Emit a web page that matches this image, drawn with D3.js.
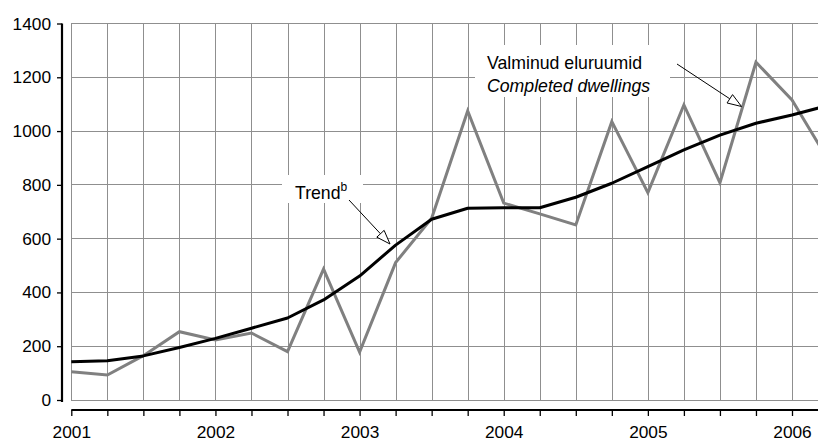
<!DOCTYPE html>
<html>
<head>
<meta charset="utf-8">
<script src="https://cdn.jsdelivr.net/npm/d3@7"></script>
<style>
  html, body { margin: 0; padding: 0; background: #fff; }
  svg { display: block; font-family: "Liberation Sans", Arial, sans-serif; }
</style>
</head>
<body>
<svg id="chart" width="818" height="442"></svg>
<script>
// Quarterly data, 2001 Q1 .. 2006 Q2
const quarters = ["2001 I","2001 II","2001 III","2001 IV","2002 I","2002 II","2002 III","2002 IV",
  "2003 I","2003 II","2003 III","2003 IV","2004 I","2004 II","2004 III","2004 IV",
  "2005 I","2005 II","2005 III","2005 IV","2006 I","2006 II"];
const completedDwellings = [105, 93, 165, 254, 223, 249, 180, 487, 178, 511, 676, 1075,
  732, 692, 651, 1035, 771, 1097, 808, 1256, 1116, 893];
const trend = [142, 146, 164, 195, 229, 267, 305, 372, 461, 576, 672, 713,
  715, 715, 754, 806, 868, 930, 985, 1029, 1060, 1095];
const yTicks = [0, 200, 400, 600, 800, 1000, 1200, 1400];
const yearLabels = ["2001", "2002", "2003", "2004", "2005", "2006"];

const W = 818, H = 442;
const svg = d3.select("#chart");

const x = d3.scaleLinear().domain([0, 20]).range([71.3, 792]);
const y = d3.scaleLinear().domain([0, 1400]).range([400, 23.5]);
const idx = quarters.map((d, i) => i);
const plotRight = W;

// clip
svg.append("defs").append("clipPath").attr("id", "clip")
  .append("rect").attr("x", 60).attr("y", 0).attr("width", plotRight - 60).attr("height", 405);

// gridlines
const grid = svg.append("g");
grid.selectAll("line.h").data(yTicks).join("line")
  .attr("x1", x(0)).attr("x2", plotRight)
  .attr("y1", d => y(d)).attr("y2", d => y(d))
  .attr("stroke", "#8f8f8f").attr("stroke-width", 1).attr("shape-rendering", "crispEdges");
grid.selectAll("line.v").data(idx.filter(i => x(i) <= plotRight)).join("line")
  .attr("x1", d => Math.round(x(d)) + 0.5).attr("x2", d => Math.round(x(d)) + 0.5)
  .attr("y1", y(1400)).attr("y2", y(0))
  .attr("stroke", "#8f8f8f").attr("stroke-width", 1);

// y axis
const yAxis = svg.append("g").attr("transform", "translate(62,0)")
  .call(d3.axisLeft(y).tickValues(yTicks).tickFormat(d3.format("d"))
    .tickSize(5).tickSizeOuter(0).tickPadding(6));
yAxis.select(".domain").attr("stroke-width", 2.2).attr("d", `M0,${y(1400)}V${y(0) + 2}`);
yAxis.selectAll(".tick line").attr("stroke-width", 1.3);
yAxis.selectAll("text").attr("font-size", 17.3).attr("fill", "#000")
  .attr("font-family", "Liberation Sans, Arial, sans-serif");

// x axis
const xAxis = svg.append("g").attr("transform", "translate(0,410)")
  .call(d3.axisBottom(x).tickValues(idx.filter(i => x(i) <= plotRight))
    .tickSize(6).tickSizeOuter(0)
    .tickFormat(i => i % 4 === 0 ? yearLabels[i / 4] : ""));
xAxis.select(".domain").attr("stroke-width", 2.2).attr("d", `M${x(0)},0H${plotRight}`);
xAxis.selectAll(".tick line").attr("stroke-width", 1.3);
xAxis.selectAll("text").attr("font-size", 17.3).attr("fill", "#000")
  .attr("y", 16).attr("font-family", "Liberation Sans, Arial, sans-serif");

// annotation boxes (white, break gridlines)
svg.append("rect").attr("x", 475).attr("y", 45).attr("width", 195).attr("height", 52).attr("fill", "#fff");
svg.append("rect").attr("x", 282).attr("y", 175).attr("width", 81).attr("height", 28).attr("fill", "#fff");

// lines
const lineGen = d3.line().x((d, i) => x(i)).y(d => y(d));
const lines = svg.append("g").attr("clip-path", "url(#clip)");
lines.append("path").datum(completedDwellings).attr("d", lineGen)
  .attr("fill", "none").attr("stroke", "#808080").attr("stroke-width", 3)
  .attr("stroke-linejoin", "miter");
lines.append("path").datum(trend).attr("d", lineGen)
  .attr("fill", "none").attr("stroke", "#000").attr("stroke-width", 3)
  .attr("stroke-linejoin", "round");

// annotation texts
const ann = svg.append("g").attr("font-size", 17.7).attr("fill", "#000");
ann.append("text").attr("x", 487).attr("y", 69).attr("fill", "#000").text("Valminud eluruumid");
ann.append("text").attr("x", 487).attr("y", 92).attr("fill", "#000").attr("font-style", "italic").text("Completed dwellings");
const tr = ann.append("text").attr("x", 295).attr("y", 199).attr("fill", "#000");
tr.append("tspan").attr("fill", "#000").text("Trend");
tr.append("tspan").attr("fill", "#000").attr("font-size", 12).attr("dy", -8).text("b");

// arrows with hollow heads
function arrow(x1, y1, x2, y2) {
  const g = svg.append("g");
  const ang = Math.atan2(y2 - y1, x2 - x1);
  const L = 14, Wd = 5;
  const bx = x2 - L * Math.cos(ang), by = y2 - L * Math.sin(ang);
  const px = -Math.sin(ang) * Wd, py = Math.cos(ang) * Wd;
  g.append("line").attr("x1", x1).attr("y1", y1).attr("x2", bx).attr("y2", by)
    .attr("stroke", "#000").attr("stroke-width", 1);
  g.append("path").attr("d", `M${x2},${y2}L${bx + px},${by + py}L${bx - px},${by - py}Z`)
    .attr("fill", "#fff").attr("stroke", "#000").attr("stroke-width", 1);
}
arrow(677, 64, 741.5, 106.5);
arrow(349, 200, 390, 244);
</script>
</body>
</html>
